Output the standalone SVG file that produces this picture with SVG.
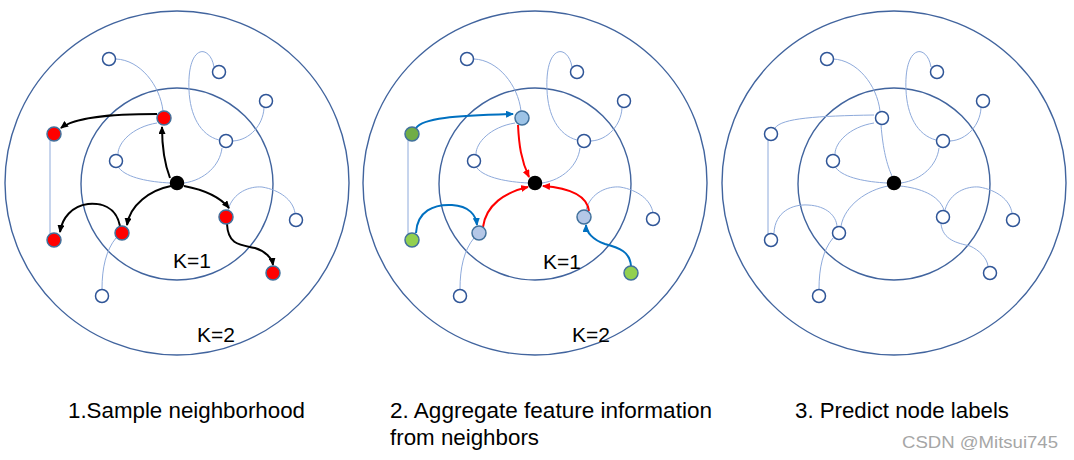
<svg xmlns="http://www.w3.org/2000/svg" width="1074" height="460" viewBox="0 0 1074 460">
<style>
.ring{fill:none;stroke:#41649e;stroke-width:1.4}
.edge{fill:none;stroke:#8eaadb;stroke-width:1}
.n{stroke:#2f5597;stroke-width:1.5}
.hollow{fill:#fff}
.red{fill:#ff0000;stroke:#41719c}
.ctr{fill:#000;stroke:#000}
.blu1{fill:#9dc3e6;stroke:#41719c}
.blu2{fill:#b4c7e7;stroke:#41719c}
.grn1{fill:#70ad47;stroke:#41719c}
.grn2{fill:#92d050;stroke:#41719c}
.ka{fill:none;stroke:#000;stroke-width:2;marker-end:url(#mk)}
.ra{fill:none;stroke:#ff0000;stroke-width:2;marker-end:url(#mr)}
.ba{fill:none;stroke:#0070c0;stroke-width:2;marker-end:url(#mb)}
.lbl{font-family:"Liberation Sans",Arial,sans-serif;fill:#000}
.k{font-size:21px}
.cap{font-size:22px}
.wm{font-family:"Liberation Sans",Arial,sans-serif;font-size:16px;fill:#a6a6a6}
</style>
<defs>
<marker id="mk" viewBox="0 0 8 7" refX="7" refY="3.5" markerWidth="8" markerHeight="7" markerUnits="userSpaceOnUse" orient="auto"><path d="M0,0 L8,3.5 L0,7 z" fill="#000"/></marker>
<marker id="mr" viewBox="0 0 8 7" refX="7" refY="3.5" markerWidth="8" markerHeight="7" markerUnits="userSpaceOnUse" orient="auto"><path d="M0,0 L8,3.5 L0,7 z" fill="#ff0000"/></marker>
<marker id="mb" viewBox="0 0 8 7" refX="7" refY="3.5" markerWidth="8" markerHeight="7" markerUnits="userSpaceOnUse" orient="auto"><path d="M0,0 L8,3.5 L0,7 z" fill="#0070c0"/></marker>
</defs>
<rect width="1074" height="460" fill="#fff"/>

<!-- Panel 1 -->
<g id="panel1">
<g id="p1-rings"><circle class="ring" cx="177" cy="183" r="172"/><circle class="ring" cx="177" cy="184" r="96"/></g>
<g id="p1-connectors">
<path class="edge" d="M116,59 C140,60 160,85 163,111"/>
<path class="edge" d="M214,67 C212,55 205,50 200,52 C192,55 188,70 189,90 C190,115 200,135 219,140"/>
<path class="edge" d="M264,108 C263,125 250,140 233,141"/>
<path class="edge" d="M222,148 C220,165 205,180 184,183"/>
<path class="edge" d="M157,123 C132,127 118,143 118,154"/>
<path class="edge" d="M119,168 C127,178 150,182 170,183"/>
<path class="edge" d="M50,140 L50,234"/>
<path class="edge" d="M116,238 C106,250 102,268 102,289"/>
<path class="edge" d="M228,210 C233,192 250,186 262,187 C280,190 293,200 295,213"/>
<path class="ka" d="M157,114 C110,114 75,117 61,128"/>
<path class="ka" d="M170,178 C165,165 162,150 162,127"/>
<path class="ka" d="M171,186 C150,190 130,205 127,225"/>
<path class="ka" d="M120,226 C116,206 100,203 88,204 C72,206 62,218 60,232"/>
<path class="ka" d="M184,186 C205,190 220,197 229,208"/>
<path class="ka" d="M227,224 C228,245 240,245 255,248 C265,251 272,258 273,265"/>
</g>
<g id="p1-n1"><circle class="n hollow" cx="109" cy="59" r="6.5"/></g>
<g id="p1-n2"><circle class="n hollow" cx="219" cy="72" r="6.5"/></g>
<g id="p1-n3"><circle class="n hollow" cx="266" cy="101" r="6.5"/></g>
<g id="p1-n4"><circle class="n red" cx="164" cy="118" r="7"/></g>
<g id="p1-n5"><circle class="n red" cx="54" cy="134" r="7"/></g>
<g id="p1-n6"><circle class="n hollow" cx="226" cy="141" r="6.5"/></g>
<g id="p1-n7"><circle class="n hollow" cx="116" cy="161" r="6.5"/></g>
<g id="p1-center"><circle class="n ctr" cx="177" cy="183" r="6.5"/></g>
<g id="p1-n8"><circle class="n red" cx="226" cy="217" r="7"/></g>
<g id="p1-n9"><circle class="n hollow" cx="296" cy="220" r="6.5"/></g>
<g id="p1-n10"><circle class="n red" cx="122" cy="233" r="7"/></g>
<g id="p1-n11"><circle class="n red" cx="54" cy="240" r="7"/></g>
<g id="p1-n12"><circle class="n red" cx="273" cy="273" r="7"/></g>
<g id="p1-n13"><circle class="n hollow" cx="102" cy="296" r="6.5"/></g>
<text class="lbl k" x="173" y="268">K=1</text>
<text class="lbl k" x="197" y="342">K=2</text>
</g>

<!-- Panel 2 -->
<g id="panel2" transform="translate(358,0)">
<g id="p2-rings"><circle class="ring" cx="177" cy="183" r="172"/><circle class="ring" cx="177" cy="184" r="96"/></g>
<g id="p2-connectors">
<path class="edge" d="M116,59 C140,60 160,85 163,111"/>
<path class="edge" d="M214,67 C212,55 205,50 200,52 C192,55 188,70 189,90 C190,115 200,135 219,140"/>
<path class="edge" d="M264,108 C263,125 250,140 233,141"/>
<path class="edge" d="M222,148 C220,165 205,180 184,183"/>
<path class="edge" d="M157,123 C132,127 118,143 118,154"/>
<path class="edge" d="M119,168 C127,178 150,182 170,183"/>
<path class="edge" d="M50,140 L50,234"/>
<path class="edge" d="M116,238 C106,250 102,268 102,289"/>
<path class="edge" d="M228,210 C233,192 250,186 262,187 C280,190 293,200 295,213"/>
<path class="ba" d="M58,128 C65,118 95,116 155,114"/>
<path class="ra" d="M160,125 C161,145 163,160 171,177"/>
<path class="ba" d="M58,233 C59,211 76,204 94,205 C111,206 118,215 119,225"/>
<path class="ra" d="M125,227 C128,205 147,192 170,187"/>
<path class="ra" d="M231,211 C229,196 212,188 185,186"/>
<path class="ba" d="M273,266 C272,252 262,248 247,244 C235,240 228,232 228,225"/>
</g>
<g id="p2-n1"><circle class="n hollow" cx="109" cy="59" r="6.5"/></g>
<g id="p2-n2"><circle class="n hollow" cx="219" cy="72" r="6.5"/></g>
<g id="p2-n3"><circle class="n hollow" cx="266" cy="101" r="6.5"/></g>
<g id="p2-n4"><circle class="n blu1" cx="164" cy="118" r="7"/></g>
<g id="p2-n5"><circle class="n grn1" cx="54" cy="134" r="7"/></g>
<g id="p2-n6"><circle class="n hollow" cx="226" cy="141" r="6.5"/></g>
<g id="p2-n7"><circle class="n hollow" cx="116" cy="161" r="6.5"/></g>
<g id="p2-center"><circle class="n ctr" cx="177" cy="183" r="6.5"/></g>
<g id="p2-n8"><circle class="n blu2" cx="226" cy="217" r="7"/></g>
<g id="p2-n9"><circle class="n hollow" cx="295" cy="219" r="6.5"/></g>
<g id="p2-n10"><circle class="n blu2" cx="121" cy="233" r="7"/></g>
<g id="p2-n11"><circle class="n grn2" cx="54" cy="240" r="7"/></g>
<g id="p2-n12"><circle class="n grn2" cx="273" cy="273" r="7"/></g>
<g id="p2-n13"><circle class="n hollow" cx="102" cy="296" r="6.5"/></g>
<text class="lbl k" x="185" y="269">K=1</text>
<text class="lbl k" x="214" y="342">K=2</text>
</g>

<!-- Panel 3 -->
<g id="panel3" transform="translate(717,0)">
<g id="p3-rings"><circle class="ring" cx="177" cy="183" r="172"/><circle class="ring" cx="177" cy="184" r="96"/></g>
<g id="p3-connectors">
<path class="edge" d="M116,59 C140,60 160,85 163,111"/>
<path class="edge" d="M214,67 C212,55 205,50 200,52 C192,55 188,70 189,90 C190,115 200,135 219,140"/>
<path class="edge" d="M264,108 C263,125 250,140 233,141"/>
<path class="edge" d="M222,148 C220,165 205,180 184,183"/>
<path class="edge" d="M157,123 C132,127 118,143 118,154"/>
<path class="edge" d="M119,168 C127,178 150,182 170,183"/>
<path class="edge" d="M58,128 C65,118 100,116 157,115"/>
<path class="edge" d="M51,140 L51,234"/>
<path class="edge" d="M164,125 C166,150 170,165 175,176"/>
<path class="edge" d="M57,233 C58,212 75,204 91,205 C110,206 119,216 120,226"/>
<path class="edge" d="M124,226 C128,205 150,190 171,186"/>
<path class="edge" d="M116,238 C106,250 102,268 102,289"/>
<path class="edge" d="M183,186 C203,188 222,195 227,210"/>
<path class="edge" d="M228,210 C233,192 250,186 262,187 C280,190 293,200 295,213"/>
<path class="edge" d="M224,224 C226,240 240,243 253,246 C262,250 270,258 271,266"/>
</g>
<g id="p3-n1"><circle class="n hollow" cx="110" cy="59" r="6.5"/></g>
<g id="p3-n2"><circle class="n hollow" cx="220" cy="72" r="6.5"/></g>
<g id="p3-n3"><circle class="n hollow" cx="266" cy="101" r="6.5"/></g>
<g id="p3-n4"><circle class="n hollow" cx="165" cy="118" r="6.5"/></g>
<g id="p3-n5"><circle class="n hollow" cx="54" cy="134" r="6.5"/></g>
<g id="p3-n6"><circle class="n hollow" cx="226" cy="141" r="6.5"/></g>
<g id="p3-n7"><circle class="n hollow" cx="116" cy="161" r="6.5"/></g>
<g id="p3-center"><circle class="n ctr" cx="177" cy="183" r="6.5"/></g>
<g id="p3-n8"><circle class="n hollow" cx="226" cy="217" r="6.5"/></g>
<g id="p3-n9"><circle class="n hollow" cx="296" cy="220" r="6.5"/></g>
<g id="p3-n10"><circle class="n hollow" cx="122" cy="233" r="6.5"/></g>
<g id="p3-n11"><circle class="n hollow" cx="54" cy="240" r="6.5"/></g>
<g id="p3-n12"><circle class="n hollow" cx="273" cy="273" r="6.5"/></g>
<g id="p3-n13"><circle class="n hollow" cx="102" cy="296" r="6.5"/></g>
</g>

<g id="captions">
<text class="lbl cap" x="68" y="418" textLength="237" lengthAdjust="spacingAndGlyphs">1.Sample neighborhood</text>
<text class="lbl cap" x="390" y="418" textLength="322" lengthAdjust="spacingAndGlyphs">2. Aggregate feature information</text>
<text class="lbl cap" x="390" y="445" textLength="149" lengthAdjust="spacingAndGlyphs">from neighbors</text>
<text class="lbl cap" x="795" y="418" textLength="214" lengthAdjust="spacingAndGlyphs">3. Predict node labels</text>
<text class="wm" x="902" y="448" textLength="156" lengthAdjust="spacingAndGlyphs">CSDN @Mitsui745</text>
</g>
</svg>
